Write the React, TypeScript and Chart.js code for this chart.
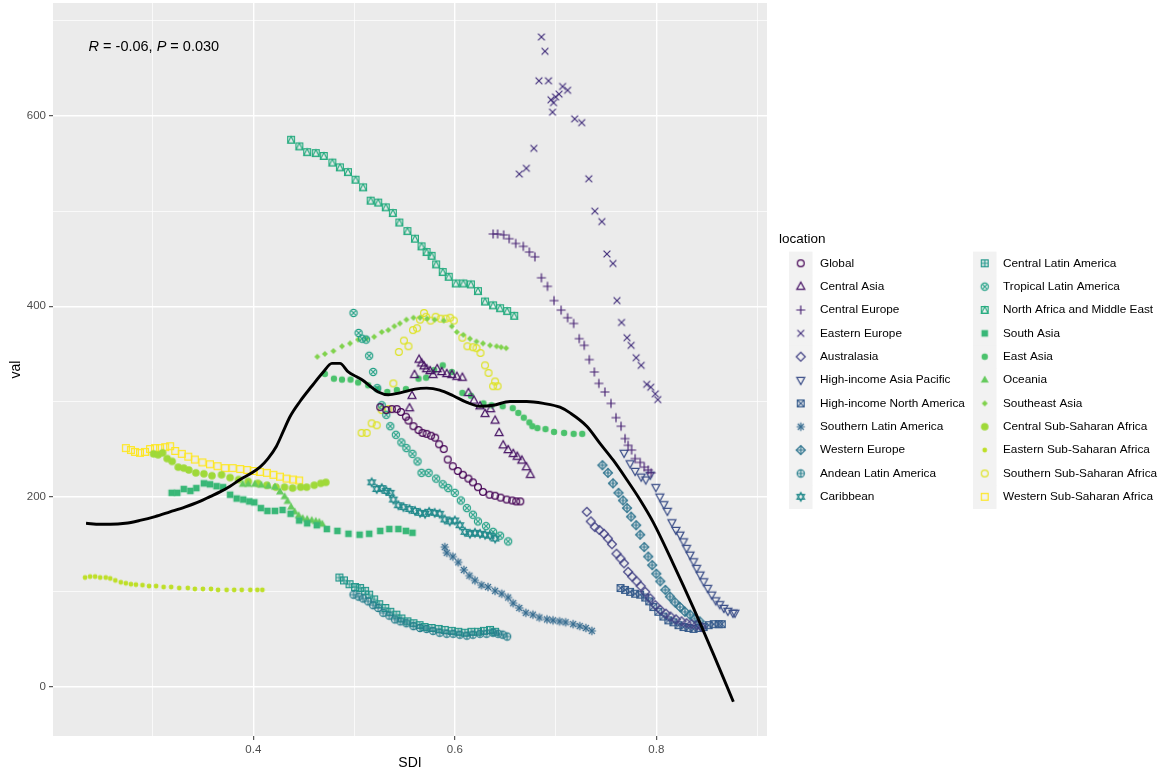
import React, { useEffect, useRef } from "react";
import { Chart, registerables } from "chart.js";

Chart.register(...registerables);

const FONT = '"Liberation Sans", Arial, Helvetica, sans-serif';

const locations = [
  "Global", "Central Asia", "Central Europe", "Eastern Europe", "Australasia",
  "High-income Asia Pacific", "High-income North America", "Southern Latin America",
  "Western Europe", "Andean Latin America", "Caribbean", "Central Latin America",
  "Tropical Latin America", "North Africa and Middle East", "South Asia", "East Asia",
  "Oceania", "Southeast Asia", "Central Sub-Saharan Africa", "Eastern Sub-Saharan Africa",
  "Southern Sub-Saharan Africa", "Western Sub-Saharan Africa",
];

// [SDI, val]
const globalPts = [[0.526,294],[0.532,291],[0.5375,292],[0.5425,292],[0.5465,289],[0.5515,284],[0.554,280],[0.559,274],[0.564,270],[0.568,267],[0.572,266],[0.5765,264],[0.5805,262],[0.5845,255],[0.589,250],[0.593,239],[0.598,232],[0.603,227],[0.608,223],[0.6135,219],[0.618,215],[0.623,210],[0.628,205],[0.6345,202],[0.64,201],[0.6455,199],[0.6515,197],[0.657,196],[0.661,195],[0.665,195]];
const centralAsiaPts = [[0.5645,344],[0.567,340],[0.5695,337],[0.572,334],[0.5755,332],[0.5785,328],[0.5825,334],[0.587,331],[0.592,329],[0.597,328],[0.602,326],[0.6075,325],[0.56,328],[0.5575,306],[0.555,293],[0.6135,309],[0.619,301],[0.625,295],[0.63,287],[0.6355,292],[0.64,280],[0.644,267],[0.648,254],[0.653,249],[0.658,245],[0.662,242],[0.6665,238],[0.671,231],[0.675,223]];
const centralEuropePts = [[0.638,476],[0.6425,476],[0.6485,475],[0.654,471],[0.6605,466],[0.668,463],[0.674,457],[0.6795,452],[0.686,430],[0.692,421],[0.6985,406],[0.7055,396],[0.712,388],[0.718,382],[0.7235,366],[0.7285,359],[0.7335,344],[0.7385,331],[0.743,319],[0.749,310],[0.755,298],[0.76,283],[0.765,274],[0.769,261],[0.772,254],[0.7755,249],[0.779,240],[0.784,236],[0.788,231],[0.792,228],[0.795,225]];
const easternEuropePts = [[0.686,683],[0.6895,668],[0.6835,637],[0.693,637],[0.707,631],[0.712,627],[0.7035,623],[0.7,620],[0.6955,617],[0.698,614],[0.697,604],[0.719,597],[0.726,593],[0.6785,566],[0.671,545],[0.664,539],[0.733,534],[0.739,500],[0.746,489],[0.751,455],[0.757,445],[0.761,406],[0.7655,383],[0.771,367],[0.775,359],[0.78,346],[0.785,338],[0.7905,318],[0.7945,315],[0.799,308],[0.8015,302]];
const australasiaPts = [[0.731,184],[0.735,174],[0.739,168],[0.7435,165],[0.748,161],[0.752,156],[0.756,150],[0.7605,140],[0.7645,135],[0.768,130],[0.772,121],[0.776,116],[0.7805,111],[0.7845,106],[0.789,100],[0.794,93],[0.799,86],[0.804,81],[0.8095,77],[0.814,74],[0.8195,71],[0.825,69],[0.83,67],[0.835,66],[0.84,65],[0.845,63]];
const hiAsiaPacificPts = [[0.768,246],[0.774,235],[0.779,227],[0.785,221],[0.7895,218],[0.794,223],[0.7995,210],[0.8035,200],[0.8075,192],[0.811,185],[0.8155,173],[0.8195,165],[0.8235,160],[0.827,153],[0.83,146],[0.8335,139],[0.837,132],[0.84,125],[0.8435,118],[0.847,111],[0.851,104],[0.855,97],[0.859,91],[0.863,87],[0.867,83],[0.871,80],[0.876,78],[0.878,78]];
const hiNorthAmericaPts = [[0.7645,104],[0.769,102],[0.774,100],[0.779,98],[0.784,97],[0.789,94],[0.793,90],[0.797,84],[0.802,79],[0.807,74],[0.812,70],[0.817,68],[0.822,65],[0.827,63],[0.832,62],[0.837,61],[0.842,62],[0.847,63],[0.852,65],[0.857,66],[0.862,66],[0.865,66]];
const southernLatAmPts = [[0.59,147],[0.592,141],[0.598,137],[0.6035,131],[0.609,123],[0.6145,117],[0.62,112],[0.6265,107],[0.633,105],[0.64,101],[0.6465,98],[0.653,94],[0.658,88],[0.664,83],[0.6705,78],[0.6775,76],[0.684,73],[0.6915,71],[0.6975,70],[0.704,69],[0.71,68],[0.7175,66],[0.724,64],[0.73,62],[0.736,59]];
const westernEuropePts = [[0.7465,233],[0.752,225],[0.757,214],[0.7625,204],[0.767,196],[0.771,188],[0.775,179],[0.78,170],[0.784,160],[0.788,147],[0.792,137],[0.796,128],[0.8,119],[0.804,111],[0.809,102],[0.8135,95],[0.8185,89],[0.8235,84],[0.8285,79],[0.8335,76],[0.838,72],[0.843,69]];
const andeanLatAmPts = [[0.4995,97],[0.5045,95],[0.509,93],[0.514,90],[0.519,86],[0.524,83],[0.529,78],[0.535,75],[0.5405,71],[0.546,69],[0.552,67],[0.559,64],[0.5655,62],[0.572,61],[0.5785,59],[0.585,57],[0.592,56],[0.5985,56],[0.605,55],[0.612,54],[0.618,55],[0.625,56],[0.6315,56],[0.638,57],[0.643,56],[0.6475,55],[0.652,53]];
const caribbeanPts = [[0.5175,215],[0.5225,208],[0.5275,209],[0.532,206],[0.536,204],[0.539,197],[0.544,191],[0.549,189],[0.555,187],[0.5605,185],[0.5655,183],[0.5705,182],[0.5745,184],[0.58,183],[0.585,182],[0.59,176],[0.595,174],[0.6,175],[0.605,170],[0.61,163],[0.615,161],[0.62,162],[0.625,161],[0.63,160],[0.635,159],[0.64,156]];
const centralLatAmPts = [[0.4855,115],[0.49,112],[0.4955,108],[0.501,105],[0.506,104],[0.511,101],[0.515,97],[0.52,92],[0.525,87],[0.531,83],[0.536,79],[0.542,76],[0.547,72],[0.553,69],[0.559,67],[0.565,65],[0.57,63],[0.577,62],[0.584,61],[0.59,60],[0.597,59],[0.6035,58],[0.61,57],[0.6165,58],[0.623,58],[0.629,59],[0.635,60],[0.64,58]];
const tropicalLatAmPts = [[0.4995,393],[0.5045,372],[0.508,366],[0.512,365],[0.515,348],[0.519,331],[0.523,314],[0.5275,296],[0.532,286],[0.536,274],[0.5415,265],[0.547,257],[0.552,251],[0.558,245],[0.563,237],[0.567,225],[0.574,225],[0.5815,219],[0.588,213],[0.5935,209],[0.6,204],[0.606,196],[0.612,188],[0.618,181],[0.623,174],[0.631,169],[0.638,163],[0.645,159],[0.653,153]];
const northAfricaMEPts = [[0.4375,575],[0.4457,568],[0.4535,562],[0.462,561],[0.47,558],[0.4785,551],[0.486,546],[0.494,541],[0.5015,533],[0.509,525],[0.5165,511],[0.524,509],[0.5315,504],[0.5385,498],[0.545,488],[0.553,479],[0.5605,471],[0.567,463],[0.572,457],[0.577,453],[0.5815,444],[0.588,436],[0.594,431],[0.601,424],[0.6085,424],[0.616,423],[0.623,416],[0.63,405],[0.638,401],[0.645,398],[0.652,395],[0.659,390]];
const southAsiaPts = [[0.319,204],[0.3245,204],[0.331,208],[0.3375,206],[0.3435,209],[0.351,214],[0.357,213],[0.3635,211],[0.37,210],[0.377,202],[0.3835,198],[0.39,197],[0.396,195],[0.401,194],[0.4075,188],[0.414,185],[0.4215,185],[0.429,186],[0.437,182],[0.4455,175],[0.4535,172],[0.463,170],[0.473,166],[0.4835,164],[0.4945,161],[0.5055,160],[0.515,161],[0.526,164],[0.535,166],[0.544,166],[0.5515,164],[0.558,162]];
const eastAsiaPts = [[0.471,329],[0.48,324],[0.488,323],[0.4965,323],[0.504,320],[0.514,317],[0.5235,313],[0.533,310],[0.5425,312],[0.5515,313],[0.564,324],[0.5715,325],[0.5795,333],[0.588,338],[0.597,331],[0.6075,309],[0.616,306],[0.6285,298],[0.6365,296],[0.6475,295],[0.6575,293],[0.663,288],[0.6685,283],[0.674,278],[0.677,274],[0.682,272],[0.69,271],[0.6985,268],[0.7085,267],[0.718,266],[0.7265,266]];
const oceaniaPts = [[0.3895,213],[0.395,213],[0.4015,213],[0.408,212],[0.415,211],[0.4215,210],[0.4265,205],[0.431,200],[0.434,195],[0.4375,189],[0.441,184],[0.445,180],[0.449,177],[0.4535,176],[0.458,175],[0.462,174],[0.4655,173],[0.4685,171]];
const southeastAsiaPts = [[0.4635,347],[0.471,350],[0.4795,353],[0.488,358],[0.496,361],[0.504,365],[0.5125,366],[0.52,368],[0.5275,373],[0.534,375],[0.54,379],[0.5455,382],[0.552,386],[0.559,388],[0.5655,388],[0.5725,387],[0.58,386],[0.589,385],[0.597,379],[0.602,373],[0.6085,370],[0.615,366],[0.6215,363],[0.628,361],[0.635,359],[0.6415,358],[0.646,357],[0.651,356]];
const centralSSAPts = [[0.301,245],[0.3055,244],[0.31,246],[0.3145,240],[0.3195,237],[0.3255,231],[0.331,230],[0.336,228],[0.343,225],[0.351,224],[0.359,222],[0.3685,223],[0.377,220],[0.3855,218],[0.395,216],[0.4045,214],[0.4135,212],[0.4225,210],[0.431,210],[0.439,209],[0.447,210],[0.453,210],[0.4605,212],[0.467,214],[0.472,215]];
const easternSSAPts = [[0.233,115],[0.238,116],[0.243,116],[0.248,115],[0.2535,115],[0.258,114],[0.263,112],[0.2685,110],[0.2735,109],[0.2785,108],[0.2835,107.5],[0.29,107],[0.2965,106],[0.3035,106],[0.311,105],[0.3185,105],[0.3265,104],[0.335,104],[0.342,103],[0.35,103],[0.358,103],[0.365,102],[0.3735,102],[0.381,102],[0.3885,102],[0.397,102],[0.404,102],[0.409,102]];
const southernSSAPts = [[0.5075,267],[0.5125,267],[0.5175,277],[0.5225,275],[0.5275,291],[0.534,292],[0.539,319],[0.5445,352],[0.5495,364],[0.554,358],[0.5585,375],[0.5625,377],[0.5655,386],[0.5695,393],[0.5715,389],[0.576,385],[0.581,389],[0.586,387],[0.591,387],[0.5955,388],[0.599,385],[0.6075,367],[0.6125,358],[0.618,357],[0.6215,356],[0.6255,351],[0.63,338],[0.6335,330],[0.638,316],[0.64,321],[0.6425,316]];
const westernSSAPts = [[0.2735,251],[0.2785,249],[0.2825,247],[0.2875,246],[0.2925,247],[0.2975,250],[0.3025,251],[0.3075,251],[0.3125,252],[0.3175,253],[0.3225,248],[0.329,245],[0.3355,242],[0.342,239],[0.3495,236],[0.357,234],[0.3645,232],[0.372,230],[0.3795,230],[0.387,229],[0.394,228],[0.4005,227],[0.4065,226],[0.4135,225],[0.42,223],[0.4265,221],[0.433,219],[0.4395,218],[0.4455,217]];

const seriesPoints = [
  globalPts, centralAsiaPts, centralEuropePts, easternEuropePts, australasiaPts,
  hiAsiaPacificPts, hiNorthAmericaPts, southernLatAmPts, westernEuropePts, andeanLatAmPts,
  caribbeanPts, centralLatAmPts, tropicalLatAmPts, northAfricaMEPts, southAsiaPts,
  eastAsiaPts, oceaniaPts, southeastAsiaPts, centralSSAPts, easternSSAPts,
  southernSSAPts, westernSSAPts,
];

// smoothing curve (loess)
const fitSDI = [0.234,0.248,0.258,0.273,0.2875,0.3025,0.3173,0.332,0.347,0.357,0.367,0.377,0.387,0.397,0.4066,0.4146,0.423,0.4295,0.4364,0.4463,0.458,0.4695,0.478,0.486,0.4943,0.5026,0.509,0.516,0.524,0.534,0.5456,0.5605,0.572,0.585,0.5985,0.612,0.625,0.638,0.6548,0.6714,0.688,0.7044,0.7144,0.731,0.7441,0.7575,0.7706,0.784,0.797,0.8166,0.8365,0.8565,0.8765];
const fitVal = [172,171,171,172,175,179,184,189,195,200,205,211,218,224,231,240,253,268,284,300,316,331,340,340,331,326,322,316,310,307,309,313,314,312,306,299,295,296,300,300,298,294,288,274,256,238,218,196.5,173,130,84,35,-15.5];

const corLabel = { r: "-0.06", p: "0.030" };

const xMajorTicks = [0.4, 0.6, 0.8];
const xTickLabels = ["0.4", "0.6", "0.8"];
const xMinorTicks = [0.3, 0.5, 0.7, 0.9];
const yMajorTicks = [0, 200, 400, 600];
const yTickLabels = ["0", "200", "400", "600"];
const yMinorTicks = [100, 300, 500, 700];

const X_MIN = 0.2012, X_MAX = 0.9099;
const Y_MIN = -51.5, Y_MAX = 718.7;

// ggplot shape codes per location (style)
const locationShapes = [1,2,3,4,5,6,7,8,9,10,11,12,13,14,15,16,17,18,19,20,21,22];

const VIR = [[68,1,84],[72,37,118],[65,68,135],[53,96,141],[42,120,142],[33,144,140],[34,168,132],[67,191,113],[122,209,81],[187,223,39],[253,231,37]];
function viridis(t: number): string {
  const p = Math.max(0, Math.min(1, t)) * 10;
  const i = Math.min(9, Math.floor(p));
  const f = p - i;
  const a = VIR[i], b = VIR[i + 1];
  const c = a.map((v, k) => Math.round(v + (b[k] - v) * f));
  return `rgb(${c[0]},${c[1]},${c[2]})`;
}

function makeShape(shape: number, color: string): HTMLCanvasElement {
  const S = 18;
  const c = document.createElement("canvas");
  c.width = S; c.height = S;
  const g = c.getContext("2d") as CanvasRenderingContext2D;
  g.translate(S / 2, S / 2);
  g.strokeStyle = color; g.fillStyle = color; g.lineWidth = 1.2;
  const circle = (r: number) => { g.beginPath(); g.arc(0, 0, r, 0, Math.PI * 2); };
  const tri = (up: boolean, r: number) => {
    const s = up ? 1 : -1;
    g.beginPath(); g.moveTo(0, -s * r * 1.15); g.lineTo(r, s * r * 0.65); g.lineTo(-r, s * r * 0.65); g.closePath();
  };
  const sq = (h: number) => { g.beginPath(); g.rect(-h, -h, 2 * h, 2 * h); };
  const dia = (h: number) => { g.beginPath(); g.moveTo(0, -h); g.lineTo(h, 0); g.lineTo(0, h); g.lineTo(-h, 0); g.closePath(); };
  const plus = (h: number) => { g.beginPath(); g.moveTo(-h, 0); g.lineTo(h, 0); g.moveTo(0, -h); g.lineTo(0, h); g.stroke(); };
  const cross = (h: number) => { g.beginPath(); g.moveTo(-h, -h); g.lineTo(h, h); g.moveTo(-h, h); g.lineTo(h, -h); g.stroke(); };
  switch (shape) {
    case 1: circle(3.4); g.stroke(); break;
    case 2: tri(true, 4); g.stroke(); break;
    case 3: plus(4.5); break;
    case 4: cross(3.4); break;
    case 5: dia(4.5); g.stroke(); break;
    case 6: tri(false, 4); g.stroke(); break;
    case 7: sq(3.4); g.stroke(); cross(3.4); break;
    case 8: plus(4.2); cross(3); break;
    case 9: dia(4.5); g.stroke(); plus(4.5); break;
    case 10: circle(3.6); g.stroke(); plus(3.6); break;
    case 11: tri(true, 3.8); g.stroke(); tri(false, 3.8); g.stroke(); break;
    case 12: sq(3.4); g.stroke(); plus(3.4); break;
    case 13: circle(3.6); g.stroke(); cross(2.6); break;
    case 14: sq(3.4); g.stroke(); g.beginPath(); g.moveTo(0, -3.4); g.lineTo(3.4, 3.4); g.lineTo(-3.4, 3.4); g.closePath(); g.stroke(); break;
    case 15: sq(3.3); g.fill(); break;
    case 16: circle(3.2); g.fill(); break;
    case 17: tri(true, 4); g.fill(); break;
    case 18: dia(3); g.fill(); break;
    case 19: circle(3.8); g.fill(); break;
    case 20: circle(2.4); g.fill(); break;
    case 21: circle(3.4); g.stroke(); break;
    case 22: sq(3.4); g.stroke(); break;
  }
  return c;
}

const near = (a: number, b: number) => Math.abs(a - b) < 1e-6;

export default function App() {
  const ref = useRef<HTMLCanvasElement | null>(null);

  useEffect(() => {
    document.body.style.margin = "0";
    const canvas = ref.current;
    if (!canvas) return;
    const n = locations.length;
    const colors = locations.map((_, i) => viridis(i / (n - 1)));
    const shapes = locations.map((_, i) => makeShape(locationShapes[i], colors[i]));

    const datasets: any[] = [
      {
        label: "fit",
        data: fitSDI.map((x, i) => ({ x, y: fitVal[i] })),
        showLine: true,
        borderColor: "#000000",
        borderWidth: 2.9,
        pointRadius: 0,
        tension: 0.4,
        cubicInterpolationMode: "monotone",
        fill: false,
        order: -1,
      },
    ];
    seriesPoints.forEach((pts, i) => {
      datasets.push({
        label: locations[i],
        data: pts.map((p) => ({ x: p[0], y: p[1] })),
        pointStyle: shapes[i],
        pointRadius: 3,
        showLine: false,
        order: i,
      });
    });

    const panelPlugin = {
      id: "panelBg",
      beforeDraw(chart: any) {
        const { ctx, chartArea: a } = chart;
        ctx.save();
        ctx.fillStyle = "#EBEBEB";
        ctx.fillRect(a.left, a.top, a.right - a.left, a.bottom - a.top);
        ctx.restore();
      },
    };

    const decorPlugin = {
      id: "decor",
      afterDraw(chart: any) {
        const { ctx, chartArea: a, scales } = chart;
        ctx.save();
        // correlation annotation
        let x = scales.x.getPixelForValue(0.2365);
        const y = scales.y.getPixelForValue(668.5);
        ctx.fillStyle = "#000000";
        ctx.textBaseline = "alphabetic";
        ctx.textAlign = "left";
        const parts: [string, boolean][] = [["R", true], [" = " + corLabel.r + ", ", false], ["P", true], [" = " + corLabel.p, false]];
        for (const [t, it] of parts) {
          ctx.font = `${it ? "italic " : ""}14.5px ${FONT}`;
          ctx.fillText(t, x, y);
          x += ctx.measureText(t).width;
        }
        // axis titles
        ctx.font = `14px ${FONT}`;
        ctx.textAlign = "center";
        ctx.textBaseline = "middle";
        ctx.fillText("SDI", (a.left + a.right) / 2, 763);
        ctx.save();
        ctx.translate(16, (a.top + a.bottom) / 2);
        ctx.rotate(-Math.PI / 2);
        ctx.fillText("val", 0, 0);
        ctx.restore();
        // legend
        ctx.textAlign = "left";
        ctx.textBaseline = "alphabetic";
        ctx.font = `13.5px ${FONT}`;
        ctx.fillText("location", 779, 243);
        const rowH = 23.35;
        const keyW = 23.5;
        ctx.font = `11.8px ${FONT}`;
        ctx.textBaseline = "middle";
        locations.forEach((name, i) => {
          const col = i < 11 ? 0 : 1;
          const row = i % 11;
          const kx = col ? 973 : 789;
          const cy = 263.3 + row * rowH;
          ctx.fillStyle = "#F2F2F2";
          ctx.fillRect(kx, cy - rowH / 2, keyW, rowH + 0.5);
          const img = shapes[i];
          ctx.drawImage(img, kx + keyW / 2 - img.width / 2, cy - img.height / 2);
          ctx.fillStyle = "#000000";
          ctx.fillText(name, col ? 1003 : 820, cy);
        });
        ctx.restore();
      },
    };

    const gridWidth = (vals: number[]) => (c: any) => {
      const v = c.tick ? c.tick.value : NaN;
      return vals.some((m) => near(m, v)) ? 1.4 : 0.7;
    };
    const tickCol = (vals: number[]) => (c: any) => {
      const v = c.tick ? c.tick.value : NaN;
      return vals.some((m) => near(m, v)) ? "#333333" : "rgba(0,0,0,0)";
    };

    const chart = new Chart(canvas, {
      type: "scatter",
      data: { datasets },
      plugins: [panelPlugin, decorPlugin],
      options: {
        responsive: false,
        animation: false,
        events: [],
        layout: { autoPadding: false, padding: { left: 0, top: 3, right: 393, bottom: 0 } },
        plugins: { legend: { display: false }, tooltip: { enabled: false }, title: { display: false } },
        scales: {
          x: {
            type: "linear",
            min: X_MIN,
            max: X_MAX,
            afterBuildTicks: (s: any) => {
              s.ticks = [...xMinorTicks, ...xMajorTicks].sort((p, q) => p - q).map((v) => ({ value: v }));
            },
            afterFit: (s: any) => {
              s.height = 33;
              s.paddingLeft = 0; s.paddingRight = 0; s.paddingTop = 0; s.paddingBottom = 0;
            },
            ticks: {
              autoSkip: false,
              maxRotation: 0,
              minRotation: 0,
              padding: 3,
              color: "#4D4D4D",
              font: { family: FONT, size: 11.5 },
              callback: (v: any) => {
                const k = xMajorTicks.findIndex((m) => near(m, Number(v)));
                return k >= 0 ? xTickLabels[k] : "";
              },
            },
            grid: {
              color: "#FFFFFF",
              lineWidth: gridWidth(xMajorTicks),
              tickColor: tickCol(xMajorTicks),
              tickLength: 4,
              tickWidth: 1,
              drawOnChartArea: true,
            },
            border: { display: false },
          },
          y: {
            type: "linear",
            min: Y_MIN,
            max: Y_MAX,
            afterBuildTicks: (s: any) => {
              s.ticks = [...yMinorTicks, ...yMajorTicks].sort((p, q) => p - q).map((v) => ({ value: v }));
            },
            afterFit: (s: any) => {
              s.width = 53;
              s.paddingLeft = 0; s.paddingRight = 0; s.paddingTop = 0; s.paddingBottom = 0;
            },
            ticks: {
              autoSkip: false,
              padding: 3,
              color: "#4D4D4D",
              font: { family: FONT, size: 11.5 },
              callback: (v: any) => {
                const k = yMajorTicks.findIndex((m) => near(m, Number(v)));
                return k >= 0 ? yTickLabels[k] : "";
              },
            },
            grid: {
              color: "#FFFFFF",
              lineWidth: gridWidth(yMajorTicks),
              tickColor: tickCol(yMajorTicks),
              tickLength: 4,
              tickWidth: 1,
              drawOnChartArea: true,
            },
            border: { display: false },
          },
        },
      } as any,
    });

    return () => chart.destroy();
  }, []);

  return (
    <div style={{ width: 1160, height: 769, background: "#FFFFFF" }}>
      <canvas ref={ref} width={1160} height={769} />
    </div>
  );
}
